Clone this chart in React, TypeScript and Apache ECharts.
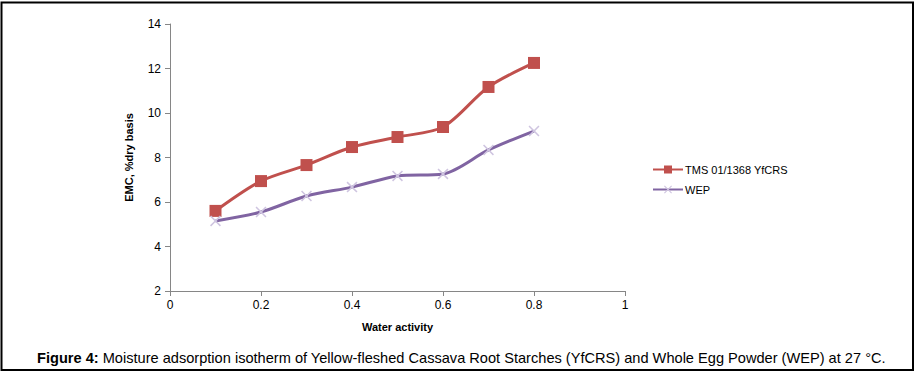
import React, { useEffect, useRef } from "react";
import * as echarts from "echarts";

const waterActivity = [0.1, 0.2, 0.3, 0.4, 0.5, 0.6, 0.7, 0.8];
const yfcrs = [5.6, 6.94, 7.66, 8.47, 8.92, 9.37, 11.17, 12.25];
const wep = [5.15, 5.55, 6.27, 6.67, 7.17, 7.26, 8.34, 9.19];
const seriesNames = ["TMS 01/1368 YfCRS", "WEP"];
const xAxisTitle = "Water activity";
const yAxisTitle = "EMC, %dry basis";
const captionBold = "Figure 4:";
const captionRest =
  " Moisture adsorption isotherm of Yellow-fleshed Cassava Root Starches (YfCRS) and Whole Egg Powder (WEP) at 27 °C.";

const crossPath =
  "path://M0,1 L1,0 L5,4 L9,0 L10,1 L6,5 L10,9 L9,10 L5,6 L1,10 L0,9 L4,5 Z";

export default function App() {
  const ref = useRef<HTMLDivElement>(null);
  useEffect(() => {
    document.body.style.margin = "0";
    const chart = echarts.init(ref.current!, null, { renderer: "svg" });
    const font = "'Liberation Sans', Arial, sans-serif";
    chart.setOption({
      animation: false,
      backgroundColor: "#fff",
      textStyle: { fontFamily: font },
      grid: { left: 170, right: 291, top: 24, bottom: 82, containLabel: false },
      legend: {
        orient: "vertical",
        left: 647,
        top: 159,
        itemGap: 9,
        itemWidth: 30,
        itemHeight: 10,
        textStyle: { fontSize: 11, color: "#000", fontFamily: font, padding: [0, 0, 0, -3] },
        data: seriesNames,
      },
      xAxis: {
        type: "value",
        min: 0,
        max: 1,
        interval: 0.2,
        name: xAxisTitle,
        nameLocation: "middle",
        nameGap: 30,
        nameTextStyle: { fontSize: 11, fontWeight: "bold", color: "#000" },
        axisLine: { lineStyle: { color: "#868686", width: 1 } },
        axisTick: { show: true, length: 5, lineStyle: { color: "#868686" } },
        axisLabel: { fontSize: 12, color: "#000", margin: 8 },
        splitLine: { show: false },
      },
      yAxis: {
        type: "value",
        min: 2,
        max: 14,
        interval: 2,
        name: yAxisTitle,
        nameLocation: "middle",
        nameGap: 36,
        nameRotate: 90,
        nameTextStyle: { fontSize: 11, fontWeight: "bold", color: "#000" },
        axisLine: { show: true, lineStyle: { color: "#868686", width: 1 } },
        axisTick: { show: true, length: 5, lineStyle: { color: "#868686" } },
        axisLabel: { fontSize: 12, color: "#000", margin: 9 },
        splitLine: { show: false },
      },
      series: [
        {
          name: seriesNames[0],
          type: "line",
          smooth: 0.3,
          data: waterActivity.map((x, i) => [x, yfcrs[i]]),
          symbol: "rect",
          symbolSize: 12,
          lineStyle: { color: "#c0504d", width: 3 },
          itemStyle: { color: "#c0504d" },
        },
        {
          name: seriesNames[1],
          type: "line",
          smooth: 0.3,
          data: waterActivity.map((x, i) => [x, wep[i]]),
          symbol: crossPath,
          symbolSize: 11,
          lineStyle: { color: "#8064a2", width: 3 },
          itemStyle: { color: "#cfc5e0" },
        },
      ],
      graphic: [
        {
          type: "rect",
          shape: { x: 1.5, y: 2.5, width: 911.5, height: 367.5 },
          style: { fill: "none", stroke: "#000", lineWidth: 2 },
          silent: true,
        },
        {
          type: "text",
          left: 37,
          top: 350,
          style: {
            text: "{b|" + captionBold + "}{n|" + captionRest + "}",
            rich: {
              b: { fontSize: 14.6, fontWeight: "bold", fill: "#000", fontFamily: font },
              n: { fontSize: 14.6, fill: "#000", fontFamily: font },
            },
          },
        },
      ],
    });
    return () => chart.dispose();
  }, []);
  return <div ref={ref} style={{ width: 916, height: 373 }} />;
}
